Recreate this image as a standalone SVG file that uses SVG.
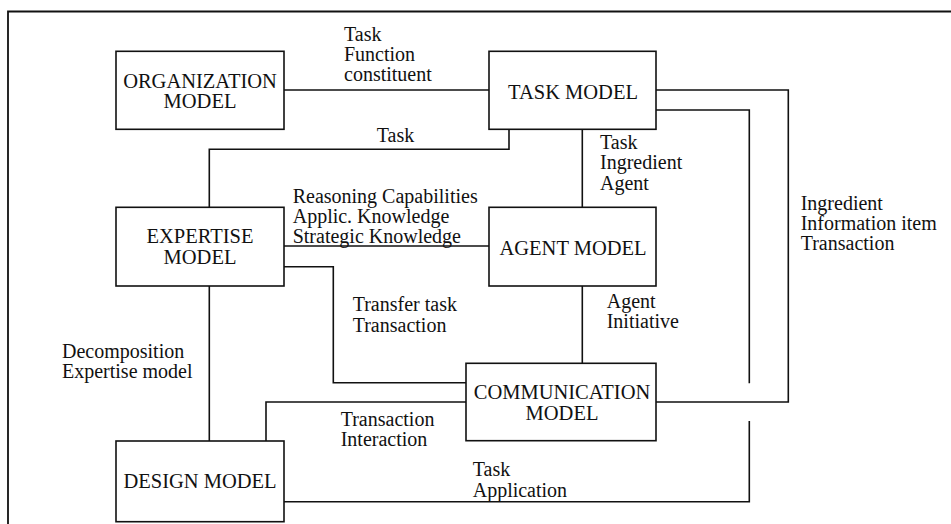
<svg xmlns="http://www.w3.org/2000/svg" width="951" height="524" viewBox="0 0 951 524">
  <style>
    .box { fill: #ffffff; stroke: #111; stroke-width: 1.6; }
    .link { fill: none; stroke: #111; stroke-width: 1.6; }
    .frame { fill: none; stroke: #111; stroke-width: 1.8; }
    .lbl { font-family: 'Liberation Serif', 'DejaVu Serif', serif; font-size: 20px; fill: #111; }
    .name { font-family: 'Liberation Serif', 'DejaVu Serif', serif; font-size: 20.5px; fill: #111; text-anchor: middle; }
  </style>
  <rect width="951" height="524" fill="#ffffff"/>
  <!-- page frame (open to the right and bottom) -->
  <path class="frame" d="M8,524 V11.5 H951"/>

  <!-- connectors and their labels -->
  <g id="connectors">
    <path class="link" d="M284,90 H489"/>
    <path class="link" d="M509,129 V149.3 H209.3 V207"/>
    <path class="link" d="M582.3,129 V207"/>
    <path class="link" d="M656,90 H788.3 V402 H656"/>
    <path class="link" d="M656,110 H749.3 V383.3"/>
    <path class="link" d="M749.3,421 V501.7 H284"/>
    <path class="link" d="M284,246 H489"/>
    <path class="link" d="M284,266.7 H333.3 V382.7 H466"/>
    <path class="link" d="M209.3,286 V441"/>
    <path class="link" d="M582.3,286 V363"/>
    <path class="link" d="M466,402 H266 V441"/>

    <text class="lbl" x="344" y="40.8">Task</text>
    <text class="lbl" x="344" y="61">Function</text>
    <text class="lbl" x="344" y="81.2">constituent</text>

    <text class="lbl" x="376.7" y="141.7">Task</text>

    <text class="lbl" x="292.7" y="202.5">Reasoning Capabilities</text>
    <text class="lbl" x="292.7" y="222.7">Applic. Knowledge</text>
    <text class="lbl" x="292.7" y="242.9">Strategic Knowledge</text>

    <text class="lbl" x="600" y="149.1">Task</text>
    <text class="lbl" x="600" y="169.3">Ingredient</text>
    <text class="lbl" x="600" y="189.5">Agent</text>

    <text class="lbl" x="800.7" y="209.8">Ingredient</text>
    <text class="lbl" x="800.7" y="230">Information item</text>
    <text class="lbl" x="800.7" y="250.2">Transaction</text>

    <text class="lbl" x="352.7" y="311.3">Transfer task</text>
    <text class="lbl" x="352.7" y="331.5">Transaction</text>

    <text class="lbl" x="606.7" y="307.7">Agent</text>
    <text class="lbl" x="606.7" y="327.9">Initiative</text>

    <text class="lbl" x="62" y="357.9">Decomposition</text>
    <text class="lbl" x="62" y="378.1">Expertise model</text>

    <text class="lbl" x="340.7" y="425.6">Transaction</text>
    <text class="lbl" x="340.7" y="445.8">Interaction</text>

    <text class="lbl" x="472.7" y="476.3">Task</text>
    <text class="lbl" x="472.7" y="496.5">Application</text>
  </g>

  <!-- model nodes -->
  <g id="organization-model">
    <rect class="box" x="116" y="51.3" width="168" height="78"/>
    <text class="name" x="200" y="87.5">ORGANIZATION</text>
    <text class="name" x="200" y="108.1">MODEL</text>
  </g>
  <g id="task-model">
    <rect class="box" x="489" y="51.3" width="167" height="78"/>
    <text class="name" x="573" y="99.3">TASK MODEL</text>
  </g>
  <g id="expertise-model">
    <rect class="box" x="116" y="207.3" width="168" height="78.7"/>
    <text class="name" x="200" y="243">EXPERTISE</text>
    <text class="name" x="200" y="263.6">MODEL</text>
  </g>
  <g id="agent-model">
    <rect class="box" x="489" y="207.3" width="167" height="78.7"/>
    <text class="name" x="573" y="255">AGENT MODEL</text>
  </g>
  <g id="communication-model">
    <rect class="box" x="466" y="363.3" width="190" height="77.4"/>
    <text class="name" x="562" y="399">COMMUNICATION</text>
    <text class="name" x="562" y="419.6">MODEL</text>
  </g>
  <g id="design-model">
    <rect class="box" x="116" y="441" width="168" height="80.7"/>
    <text class="name" x="200" y="488.3">DESIGN MODEL</text>
  </g>
</svg>
